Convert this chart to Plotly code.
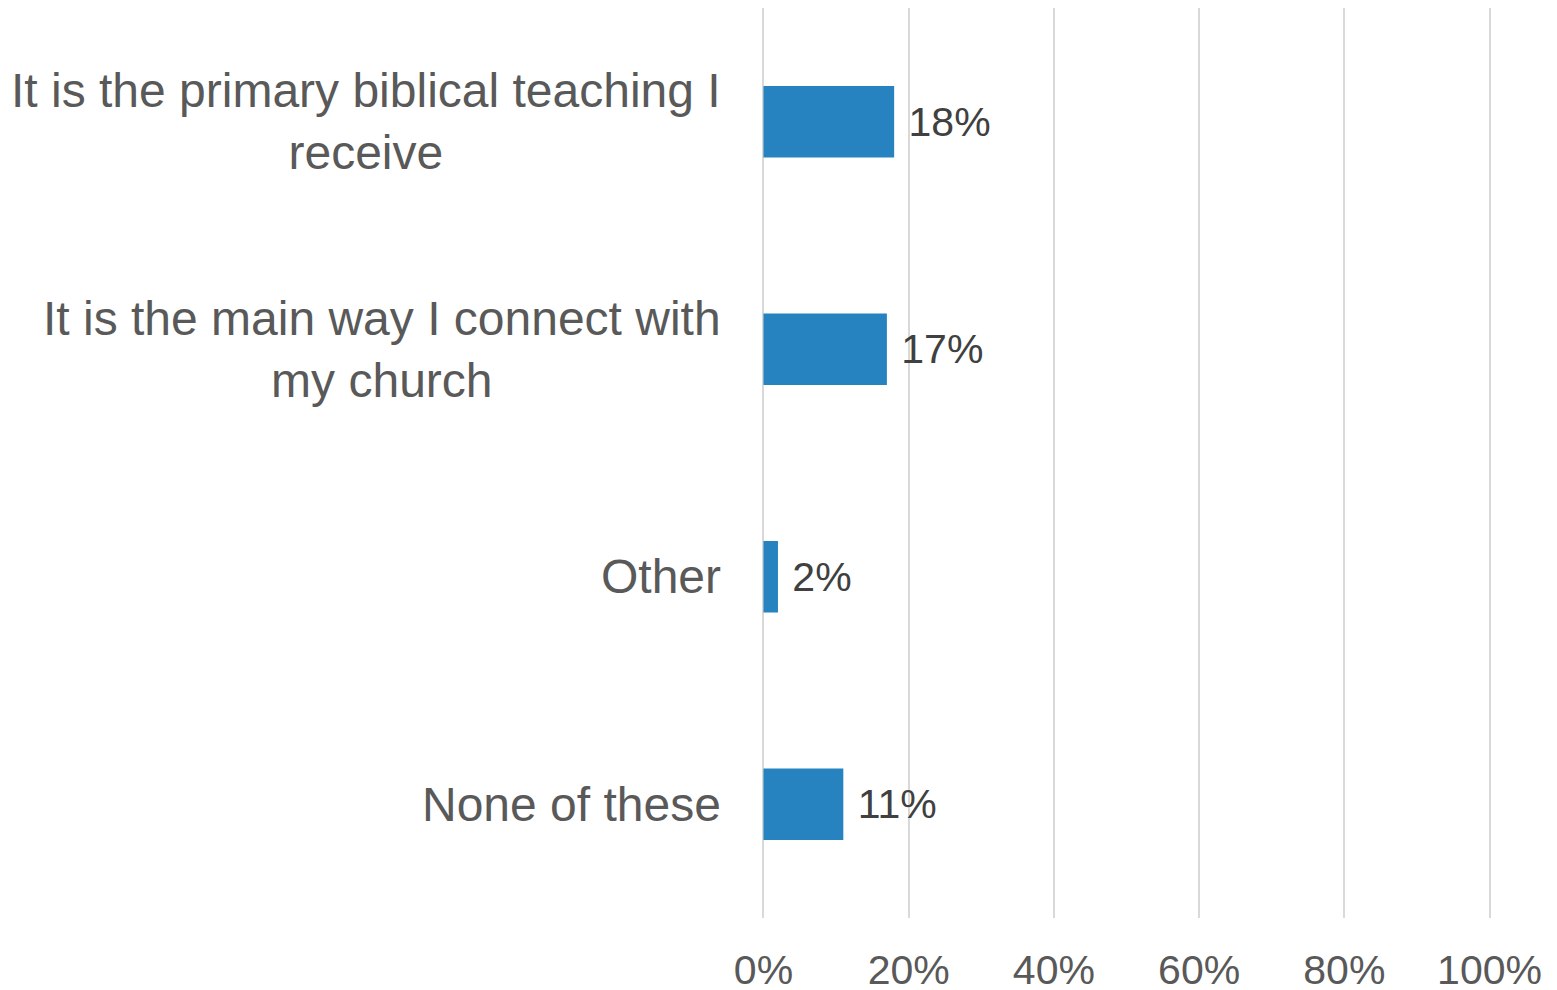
import plotly.graph_objects as go

categories = ["It is the primary biblical teaching I<br>receive",
              "It is the main way I connect with<br>my church",
              "Other",
              "None of these"]
values = [0.18, 0.17, 0.02, 0.11]
labels = ["18%", "17%", "2%", "11%"]
tick_vals = [0, 0.2, 0.4, 0.6, 0.8, 1.0]
tick_text = ["0%", "20%", "40%", "60%", "80%", "100%"]

font = "Liberation Sans, Arial, sans-serif"

fig = go.Figure()
fig.add_trace(go.Bar(
    y=list(range(len(categories))), x=values, orientation="h",
    width=0.315,
    marker=dict(color="#2683C0", line=dict(width=0)),
    text=["\u00a0" + t for t in labels], textposition="outside",
    cliponaxis=False,
    textfont=dict(family=font, size=41, color="#404040"),
))

for i, c in enumerate(categories):
    fig.add_annotation(text=c, xref="paper", yref="y", x=0, y=i,
                       xanchor="right", yanchor="middle", xshift=-39,
                       align="center", showarrow=False,
                       font=dict(family=font, size=48, color="#595959"))

fig.update_xaxes(range=[-0.002, 1.002], tickvals=tick_vals, ticktext=tick_text,
                 showgrid=True, gridcolor="#D9D9D9", gridwidth=2,
                 zeroline=False, showline=False, ticks="",
                 ticklabelstandoff=24, automargin=False,
                 tickfont=dict(family=font, size=41, color="#595959"))
fig.update_yaxes(range=[3.5, -0.5], showticklabels=False, showgrid=False,
                 zeroline=False, showline=False, automargin=False)

# page body adds an 8px offset, so margins are shifted to compensate
fig.update_layout(width=1557, height=990, plot_bgcolor="white",
                  paper_bgcolor="white", showlegend=False,
                  margin=dict(l=754, r=74, t=0, b=80, autoexpand=False))

fig.write_html("out.html")
